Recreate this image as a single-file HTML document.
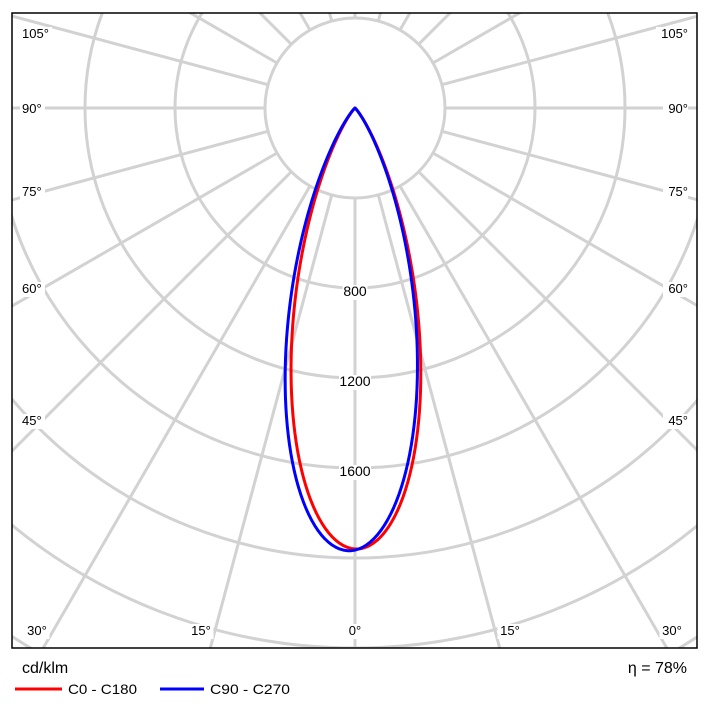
<!DOCTYPE html>
<html><head><meta charset="utf-8"><style>
html,body{margin:0;padding:0;background:#fff;width:720px;height:708px;overflow:hidden}
svg{display:block;position:absolute;left:0;top:0;font-family:"Liberation Sans",sans-serif}
</style></head><body>
<svg id="s" width="720" height="708" viewBox="0 0 720 708">
<defs><clipPath id="c"><rect x="12" y="13" width="685" height="635"/></clipPath></defs>
<g id="grid" clip-path="url(#c)" stroke="#d2d2d2" stroke-width="3" fill="none"></g>
<g id="labels" font-size="13" fill="#000"></g>
<g id="curves" clip-path="url(#c)" fill="none" stroke-width="3"></g>
<rect x="12" y="13" width="685" height="635" fill="none" stroke="#000" stroke-width="1.5"/>
<text x="22" y="673" font-size="16">cd/klm</text>
<text x="687" y="673" font-size="16" text-anchor="end">η = 78%</text>
<line x1="15" y1="689" x2="62" y2="689" stroke="#f00" stroke-width="3"/>
<text x="68" y="694" font-size="14" textLength="69" lengthAdjust="spacingAndGlyphs">C0 - C180</text>
<line x1="160" y1="689" x2="204" y2="689" stroke="#00f" stroke-width="3"/>
<text x="210" y="694" font-size="14" textLength="80" lengthAdjust="spacingAndGlyphs">C90 - C270</text>
</svg>
<script>
var NS="http://www.w3.org/2000/svg",cx=355,cy=108,k=90/400;
function el(p,t,a,txt){var e=document.createElementNS(NS,t);for(var n in a)e.setAttribute(n,a[n]);if(txt)e.textContent=txt;p.appendChild(e);return e;}
var g=document.getElementById('grid');
for(var r=90;r<=900;r+=90)el(g,'circle',{cx:cx,cy:cy,r:r});
for(var a=0;a<=180;a+=15){for(var s=-1;s<=1;s+=2){if(a==0&&s==1||a==180&&s==1)continue;var t=a*Math.PI/180;
el(g,'line',{x1:cx+s*90*Math.sin(t),y1:cy+90*Math.cos(t),x2:cx+s*1000*Math.sin(t),y2:cy+1000*Math.cos(t)});}}
var L=document.getElementById('labels');
function lab(x,y,t,anc,fs){var w=t.length*7+4;el(L,'rect',{x:anc=='middle'?x-w/2:(anc=='end'?x-w:x-2),y:y-11,width:w,height:15,fill:'#fff'});var e=el(L,'text',{x:x,y:y,'text-anchor':anc},t);if(fs)e.setAttribute('font-size',fs);}
var ys=[[105,38],[90,113],[75,196],[60,293],[45,425]];
ys.forEach(function(v){lab(22,v[1],v[0]+'°','start');lab(688,v[1],v[0]+'°','end');});
lab(37,635,'30°','middle');lab(672,635,'30°','middle');
lab(201,635,'15°','middle');lab(510,635,'15°','middle');lab(355,635,'0°','middle');
lab(355,296,'800','middle',14);lab(355,386,'1200','middle',14);lab(355,476,'1600','middle',14);
var C=document.getElementById('curves');
function curve(col,n,tilt,imax){var d='';for(var a=-90;a<=90;a+=0.5){var g2=(a-tilt)*Math.PI/180;var c=Math.cos(g2);var I=c>0?imax*Math.pow(c,n):0;var r=I*k;var t=a*Math.PI/180;
var x=cx+r*Math.sin(t),y=cy+r*Math.cos(t);d+=(d?'L':'M')+x.toFixed(2)+' '+y.toFixed(2);}
el(C,'path',{d:d,stroke:col,'stroke-linejoin':'round'});}
curve('#f00',16.5,0.2,1960);
curve('#00f',16,-0.8,1968);
</script>
</body></html>
